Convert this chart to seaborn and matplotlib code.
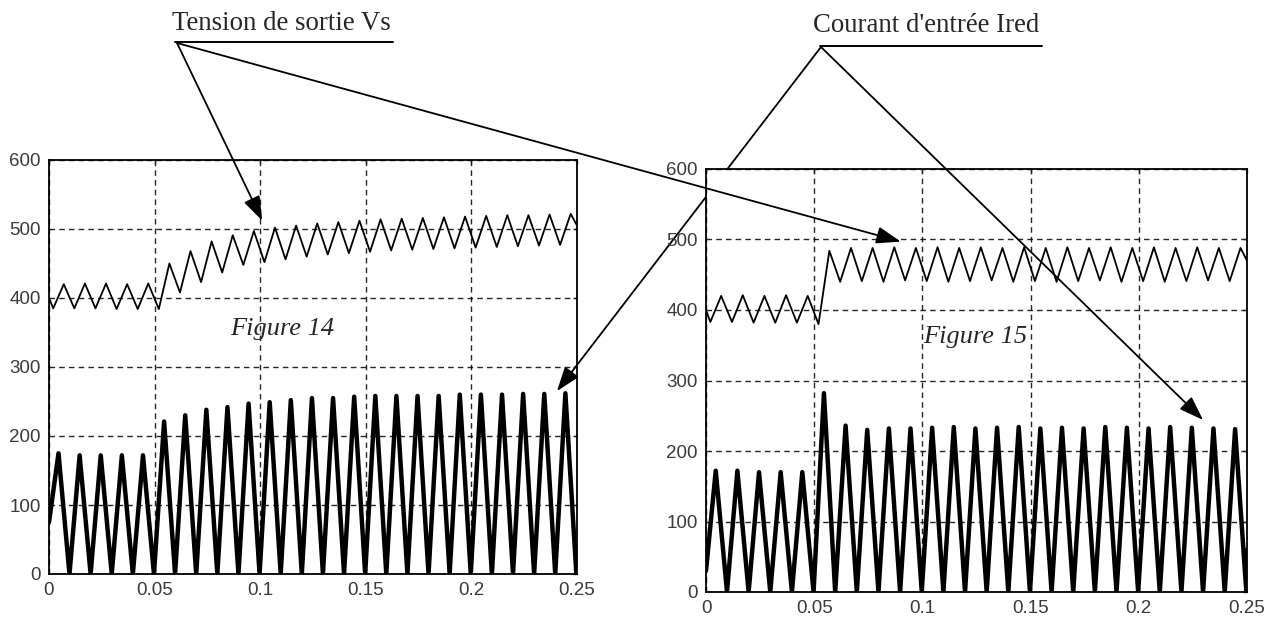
import numpy as np
import pandas as pd
import seaborn as sns
import matplotlib.pyplot as plt
from matplotlib.lines import Line2D

# ---------------- data ----------------
n_cycles = 25
period = 0.01            # ripple period (s)
t_end = 0.25
vs_trough_phase = 0.002
vs_peak_phase = 0.007
i_peak_phase = 0.0045
i_zero_phase = 0.0097

# Figure 14
vs14_start, vs14_end = 400, 505
vs14_troughs = [385, 385, 385, 384, 384, 384, 408, 423, 437, 448, 452, 456, 460,
                463, 465, 467, 469, 470, 471, 472, 473, 474, 475, 476, 477]
vs14_peaks = [420, 421, 421, 420, 421, 450, 468, 482, 491, 497, 502, 505, 508,
              510, 512, 514, 515, 516, 517, 518, 519, 520, 520, 521, 522]
i14_start, i14_end = 75, 15
i14_peaks = [175, 172, 172, 172, 172, 221, 230, 238, 242, 247, 249, 252, 255,
             255, 257, 258, 258, 258, 258, 260, 260, 260, 261, 261, 262]

# Figure 15
vs15_start, vs15_end = 400, 470
vs15_troughs = [383, 383, 382, 382, 382, 380, 440, 441, 440, 442, 441, 440, 441,
                442, 440, 441, 440, 441, 442, 440, 441, 440, 441, 442, 441]
vs15_peaks = [420, 421, 420, 421, 420, 484, 488, 488, 489, 488, 489, 488, 489,
              488, 489, 488, 489, 488, 489, 488, 489, 488, 489, 488, 488]
i15_start, i15_end = 30, 60
i15_peaks = [172, 172, 170, 170, 170, 282, 236, 230, 232, 232, 233, 234, 232,
             233, 234, 232, 233, 232, 234, 233, 232, 234, 233, 232, 231]

y_ticks = [0, 100, 200, 300, 400, 500, 600]
x_ticks = [0, 0.05, 0.1, 0.15, 0.2, 0.25]
x_tick_labels = ["0", "0.05", "0.1", "0.15", "0.2", "0.25"]

label_vs = "Tension de sortie Vs"
label_i = "Courant d'entrée Ired"
title14 = "Figure 14"
title15 = "Figure 15"


def extrema_series(start, lows, highs, low_phase, high_phase, end):
    pts = [(0.0, start)]
    for k in range(n_cycles):
        pts.append((k * period + low_phase, lows[k]))
        pts.append((k * period + high_phase, highs[k]))
    pts.append((t_end, end))
    pts.sort(key=lambda p: p[0])
    return pd.DataFrame(pts, columns=["t", "v"])


zeros = [0] * n_cycles
vs14 = extrema_series(vs14_start, vs14_troughs, vs14_peaks, vs_trough_phase, vs_peak_phase, vs14_end)
i14 = extrema_series(i14_start, zeros, i14_peaks, i_zero_phase, i_peak_phase, i14_end)
vs15 = extrema_series(vs15_start, vs15_troughs, vs15_peaks, vs_trough_phase, vs_peak_phase, vs15_end)
i15 = extrema_series(i15_start, zeros, i15_peaks, i_zero_phase, i_peak_phase, i15_end)

# ---------------- drawing ----------------
sns.set_style("white")
plt.rcParams["font.family"] = ["Liberation Sans", "DejaVu Sans"]

W, H = 1278, 617
fig = plt.figure(figsize=(W / 100, H / 100), dpi=100)


def px_axes(left, top, right, bottom):
    return fig.add_axes([left / W, 1 - bottom / H, (right - left) / W, (bottom - top) / H])


ax14 = px_axes(49, 160, 577, 574)
ax15 = px_axes(706, 169, 1247, 592)

for ax, vs, cur in ((ax14, vs14, i14), (ax15, vs15, i15)):
    sns.lineplot(data=cur, x="t", y="v", ax=ax, color="black", lw=3.2,
                 estimator=None, sort=False, solid_joinstyle="round", zorder=3)
    sns.lineplot(data=vs, x="t", y="v", ax=ax, color="black", lw=1.3,
                 estimator=None, sort=False, solid_joinstyle="round", zorder=3)
    ax.set_xlim(0, 0.25)
    ax.set_ylim(0, 600)
    ax.set_xticks(x_ticks)
    ax.set_xticklabels(x_tick_labels)
    ax.set_yticks(y_ticks)
    ax.set_xlabel("")
    ax.set_ylabel("")
    ax.grid(True, color="black", ls=(0, (4, 3)), lw=1.0, alpha=0.85)
    ax.set_axisbelow(True)
    for s in ax.spines.values():
        s.set_color("black")
        s.set_linewidth(1.3)
    ax.tick_params(direction="in", length=3, width=1, top=True, right=True,
                   labelsize=13.5, labelcolor="#3a3a3a", pad=6)

ax14.text(0.1105, 355, title14, fontsize=19, fontstyle="italic",
          family=["Liberation Serif"], ha="center", va="center", zorder=4)
ax15.text(0.1245, 362, title15, fontsize=19, fontstyle="italic",
          family=["Liberation Serif"], ha="center", va="center", zorder=4)

# labels at the top with underline
fig.text(172 / W, 1 - 24 / H, label_vs, fontsize=19.3, family=["Liberation Serif"],
         ha="left", va="center")
fig.text(813 / W, 1 - 26 / H, label_i, fontsize=19.3, family=["Liberation Serif"],
         ha="left", va="center")
fig.add_artist(Line2D([175 / W, 393 / W], [1 - 42 / H, 1 - 42 / H], color="black", lw=1.4))
fig.add_artist(Line2D([820 / W, 1042 / W], [1 - 46 / H, 1 - 46 / H], color="black", lw=1.4))

arrow = dict(arrowstyle="-|>,head_length=1.0,head_width=0.35", mutation_scale=15,
             color="black", lw=1.3, shrinkA=0, shrinkB=0)
vs_origin = (177, H - 43)
i_origin = (821, H - 47)
for ax, xy in ((ax14, (0.101, 512)), (ax15, (0.09, 497))):
    ax.annotate("", xy=xy, xycoords="data", xytext=vs_origin,
                textcoords="figure pixels", arrowprops=arrow, annotation_clip=False)
for ax, xy in ((ax14, (0.2405, 265)), (ax15, (0.2297, 244))):
    ax.annotate("", xy=xy, xycoords="data", xytext=i_origin,
                textcoords="figure pixels", arrowprops=arrow, annotation_clip=False)

fig.savefig("out.png", dpi=100)
